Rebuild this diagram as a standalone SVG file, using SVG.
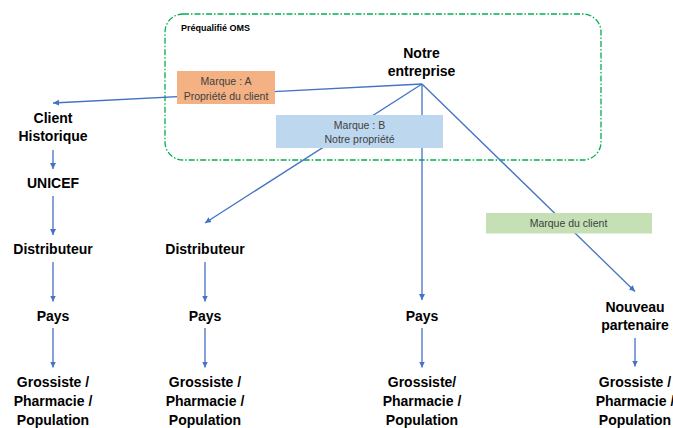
<svg xmlns="http://www.w3.org/2000/svg" width="673" height="428" viewBox="0 0 673 428">
  <defs>
    <marker id="arrow" viewBox="0 0 10 10" refX="10" refY="5" markerWidth="6" markerHeight="6" markerUnits="userSpaceOnUse" orient="auto">
      <path d="M0,0 L10,5 L0,10 z" fill="#4472C4"/>
    </marker>
  </defs>
  <style>
    .node { font-family: "Liberation Sans", Arial, sans-serif; font-weight: bold; font-size: 14px; fill: #000; text-anchor: middle; }
    .lbl { font-family: "Liberation Sans", Arial, sans-serif; font-size: 10.5px; fill: #404040; text-anchor: middle; }
    .edge { stroke: #4472C4; stroke-width: 1.3; fill: none; marker-end: url(#arrow); }
    .zone { fill: none; stroke: #00B050; stroke-width: 1.3; stroke-dasharray: 6 2 1.5 2; }
  </style>
  <rect width="673" height="428" fill="#ffffff"/>

  <!-- prequalified zone -->
  <g id="zone-oms">
    <rect class="zone" x="165" y="14" width="436" height="146" rx="18" ry="18"/>
    <text x="181" y="31" font-family="'Liberation Sans', Arial, sans-serif" font-weight="bold" font-size="9" fill="#000">Préqualifié OMS</text>
  </g>

  <!-- connectors -->
  <g id="connectors">
    <line class="edge" x1="422" y1="84" x2="53" y2="103"/>
    <line class="edge" x1="422" y1="84" x2="205" y2="223"/>
    <line class="edge" x1="422" y1="84" x2="422" y2="300"/>
    <line class="edge" x1="422" y1="84" x2="635" y2="291.5"/>
    <line class="edge" x1="53" y1="150" x2="53" y2="169"/>
    <line class="edge" x1="53" y1="196" x2="53" y2="235"/>
    <line class="edge" x1="53" y1="262" x2="53" y2="301.5"/>
    <line class="edge" x1="53" y1="328" x2="53" y2="367.5"/>
    <line class="edge" x1="205" y1="262" x2="205" y2="301.5"/>
    <line class="edge" x1="205" y1="328" x2="205" y2="367.5"/>
    <line class="edge" x1="422" y1="328" x2="422" y2="367.5"/>
    <line class="edge" x1="635" y1="338" x2="635" y2="366.5"/>
  </g>

  <!-- brand labels on connectors -->
  <g id="label-marque-a">
    <rect x="177" y="71" width="98" height="33" fill="#F4B183"/>
    <text class="lbl" x="226" y="85">Marque : A</text>
    <text class="lbl" x="226" y="99.5">Propriété du client</text>
  </g>
  <g id="label-marque-b">
    <rect x="276" y="115" width="167" height="33" fill="#BDD7EE"/>
    <text class="lbl" x="359.5" y="128.5">Marque : B</text>
    <text class="lbl" x="359.5" y="142.5">Notre propriété</text>
  </g>
  <g id="label-marque-client">
    <rect x="486" y="213" width="166" height="20.5" fill="#C5E0B4"/>
    <text class="lbl" x="568.5" y="227" font-size="10">Marque du client</text>
  </g>

  <!-- nodes -->
  <g id="notre-entreprise">
    <text class="node" x="421.5" y="57.5" font-size="14.5">Notre</text>
    <text class="node" x="421.5" y="75.5" font-size="14.5">entreprise</text>
  </g>
  <g id="client-historique">
    <text class="node" x="53" y="122.5">Client</text>
    <text class="node" x="53" y="141">Historique</text>
  </g>
  <g id="unicef">
    <text class="node" x="53" y="188">UNICEF</text>
  </g>
  <g id="distributeur-1">
    <text class="node" x="53" y="254">Distributeur</text>
  </g>
  <g id="pays-1">
    <text class="node" x="53" y="320.5">Pays</text>
  </g>
  <g id="grossiste-1">
    <text class="node" x="53" y="387">Grossiste /</text>
    <text class="node" x="53" y="406">Pharmacie /</text>
    <text class="node" x="53" y="425">Population</text>
  </g>
  <g id="distributeur-2">
    <text class="node" x="205" y="254">Distributeur</text>
  </g>
  <g id="pays-2">
    <text class="node" x="205" y="320.5">Pays</text>
  </g>
  <g id="grossiste-2">
    <text class="node" x="205" y="387">Grossiste /</text>
    <text class="node" x="205" y="406">Pharmacie /</text>
    <text class="node" x="205" y="425">Population</text>
  </g>
  <g id="pays-3">
    <text class="node" x="422" y="320.5">Pays</text>
  </g>
  <g id="grossiste-3">
    <text class="node" x="422" y="387">Grossiste/</text>
    <text class="node" x="422" y="406">Pharmacie /</text>
    <text class="node" x="422" y="425">Population</text>
  </g>
  <g id="nouveau-partenaire">
    <text class="node" x="635" y="311.5">Nouveau</text>
    <text class="node" x="635" y="330">partenaire</text>
  </g>
  <g id="grossiste-4">
    <text class="node" x="635" y="387">Grossiste /</text>
    <text class="node" x="635" y="406">Pharmacie /</text>
    <text class="node" x="635" y="425">Population</text>
  </g>
</svg>
